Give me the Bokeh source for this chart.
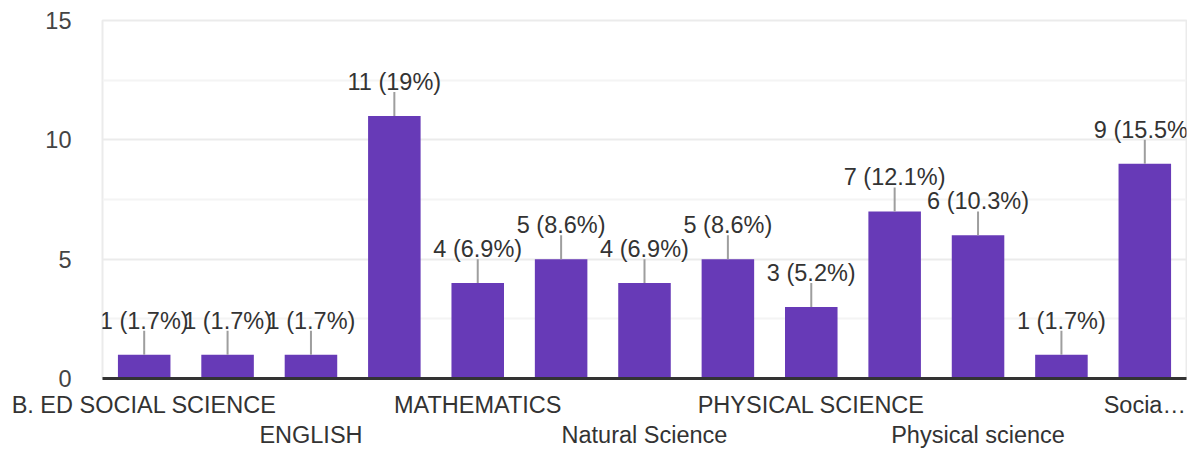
from bokeh.plotting import figure
from bokeh.models import ColumnDataSource, FixedTicker, LinearAxis
from bokeh.embed import file_html
from bokeh.resources import INLINE
from bokeh.core.properties import value

categories = ["B. ED SOCIAL SCIENCE", "Biological Science", "ENGLISH", "English",
              "MATHEMATICS", "Mathematics", "Natural Science", "Natural science",
              "PHYSICAL SCIENCE", "Physical Science", "Physical science",
              "SOCIAL SCIENCE", "Social Science"]
counts = [1, 1, 1, 11, 4, 5, 4, 5, 3, 7, 6, 1, 9]
percents = ["1.7", "1.7", "1.7", "19", "6.9", "8.6", "6.9", "8.6", "5.2",
            "12.1", "10.3", "1.7", "15.5"]
row1_labels = ["B. ED SOCIAL SCIENCE", "", "", "", "MATHEMATICS", "", "", "",
               "PHYSICAL SCIENCE", "", "", "", "Socia\u2026"]
row2_labels = ["", "", "ENGLISH", "", "", "", "Natural Science", "", "",
               "", "Physical science", "", ""]
y_ticks = [0, 5, 10, 15]
y_minor = [2.5, 7.5, 12.5]

FONT = "Liberation Sans"
FS = "23.5px"
labels = [f"{c} ({s}%)" for c, s in zip(counts, percents)]
xpos = [i + 0.5 for i in range(len(categories))]
line_len = 1.0
src = ColumnDataSource(dict(x=xpos, name=categories, top=counts, lab=labels,
                            ltop=[c + line_len for c in counts]))

p = figure(x_range=(0, len(categories)), y_range=(0, 15),
           width=1187, height=450, output_backend="svg", toolbar_location=None,
           min_border_left=102, min_border_top=20, min_border_right=1, min_border_bottom=10)
p.outline_line_color = "#ebebeb"
p.outline_line_width = 2

p.vbar(x="x", top="top", width=0.63, source=src, fill_color="#673ab7", line_color=None)
p.segment(x0="x", y0="top", x1="x", y1="ltop", source=src, line_color="#9e9e9e", line_width=2)
p.text(x="x", y="top", text="lab", source=src, text_align="center", text_baseline="alphabetic",
       y_offset=-34, text_font=value(FONT), text_font_size=FS, text_color="#333333")

# y axis
p.yaxis.ticker = FixedTicker(ticks=y_ticks, minor_ticks=y_minor)
p.yaxis.axis_line_color = None
p.yaxis.major_tick_line_color = None
p.yaxis.minor_tick_line_color = None
p.yaxis.major_label_text_font = FONT
p.yaxis.major_label_text_font_size = FS
p.yaxis.major_label_text_color = "#444444"
p.yaxis.major_label_standoff = 25
p.ygrid.grid_line_color = "#ebebeb"
p.ygrid.grid_line_width = 2
p.ygrid.minor_grid_line_color = "#f4f4f4"
p.ygrid.minor_grid_line_width = 2
p.xgrid.grid_line_color = None

def style_x(ax, labs, standoff):
    ticks = [x for x, l in zip(xpos, labs) if l]
    ax.ticker = FixedTicker(ticks=ticks, minor_ticks=[])
    ax.major_label_overrides = {x: l for x, l in zip(xpos, labs) if l}
    ax.major_tick_line_color = None
    ax.minor_tick_line_color = None
    ax.major_label_text_font = FONT
    ax.major_label_text_font_size = FS
    ax.major_label_text_color = "#333333"
    ax.major_label_standoff = standoff

xa = p.xaxis[0]
style_x(xa, row1_labels, 7)
xa.axis_line_color = "#333333"
xa.axis_line_width = 3

xa2 = LinearAxis()
style_x(xa2, row2_labels, -5)
xa2.axis_line_color = None
p.add_layout(xa2, "below")

open("out.html", "w").write(file_html(p, INLINE))
